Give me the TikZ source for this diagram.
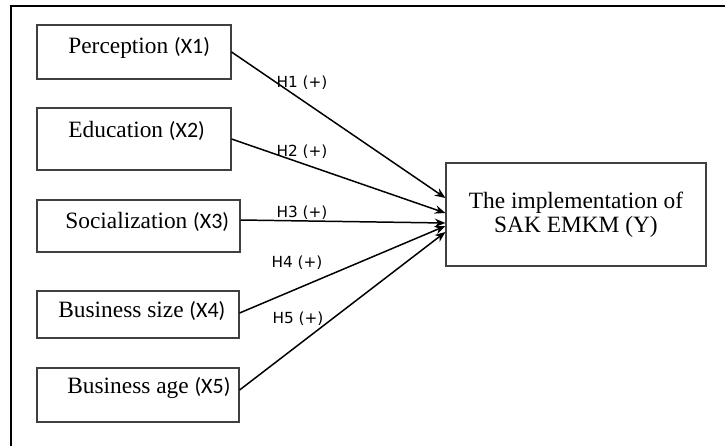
\documentclass[tikz,border=0pt]{standalone}
\usepackage{fontspec}
\setmainfont{Liberation Serif}
\newfontfamily\xfont{Carlito}
\newfontfamily\hfont{DejaVu Sans}
\usetikzlibrary{arrows.meta}
\newcommand\varx[1]{{\xfont\fontsize{12.5}{14}\selectfont(#1)}}

\begin{document}
\begin{tikzpicture}[x=0.2mm, y=-0.2mm, >={Stealth[length=6pt,width=4.8pt]},
    box/.style={draw=black!75, line width=0.65pt, inner sep=0pt},
    lbl/.style={anchor=base west, inner sep=0pt, font=\fontsize{13.3}{15}\selectfont},
    hyp/.style={inner sep=0pt, font=\hfont\fontsize{8.7}{10}\selectfont},
    link/.style={->, line width=0.85pt}]
  \useasboundingbox (0,0) rectangle (725,446);
  \draw[line width=1.4pt] (11,446) -- (11,6) -- (725,6);
  % variables
  \node[box, minimum width=38.8mm, minimum height=10.8mm] (x1) at (134,52) {};
  \node[box, minimum width=38.8mm, minimum height=12.4mm] (x2) at (134,139) {};
  \node[box, minimum width=40.6mm, minimum height=10.4mm] (x3) at (138.5,226) {};
  \node[box, minimum width=40.4mm, minimum height=9.4mm] (x4) at (138,314.5) {};
  \node[box, minimum width=40.4mm, minimum height=10.8mm] (x5) at (138,395) {};
  \node[lbl] (t1) at (68,53) {Perception \varx{X1}};
  \node[lbl] (t2) at (68,137.5) {Education \varx{X2}};
  \node[lbl] (t3) at (65,228) {Socialization \varx{X3}};
  \node[lbl] (t4) at (58,317) {Business size \varx{X4}};
  \node[lbl] (t5) at (67,393) {Business age \varx{X5}};
  \node[box, minimum width=52mm, minimum height=20.6mm, align=center,
        font=\fontsize{13.3}{13.6}\selectfont] (y) at (576,214.5)
        {The implementation of\\SAK EMKM (Y)};
  % hypotheses
  \draw[link] (x1.east) -- ([yshift=3.3mm]y.west);
  \draw[link] (x2.east) -- ([yshift=0.3mm]y.west);
  \draw[link] ([yshift=1.2mm]x3.east) -- ([yshift=-1.7mm]y.west);
  \draw[link] ([yshift=0.3mm]x4.east) -- ([yshift=-2.3mm]y.west);
  \draw[link] ([yshift=1mm]x5.east) -- ([yshift=-3.5mm]y.west);
  \node[hyp] (h1) at (302,83) {H1 (+)};
  \node[hyp] (h2) at (302,152) {H2 (+)};
  \node[hyp] (h3) at (302,213) {H3 (+)};
  \node[hyp] (h4) at (297,263) {H4 (+)};
  \node[hyp] (h5) at (298,319) {H5 (+)};
\end{tikzpicture}
\end{document}
